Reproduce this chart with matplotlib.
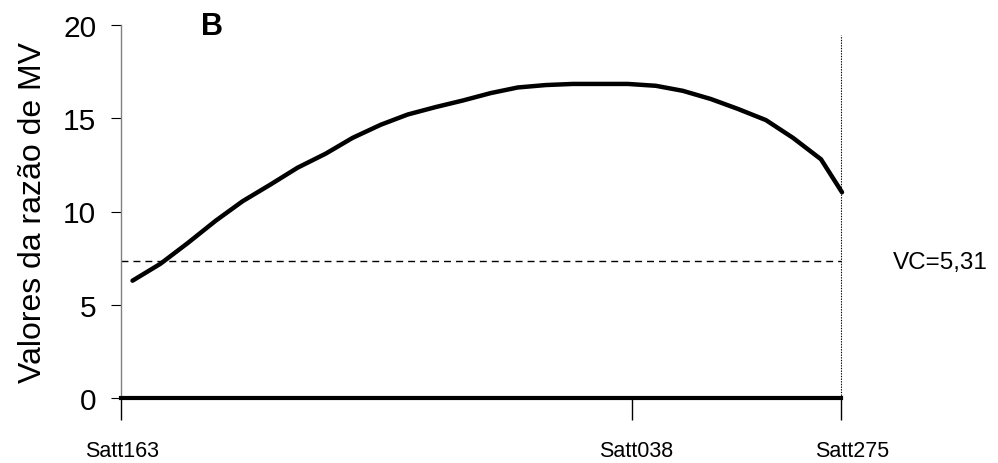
import matplotlib
matplotlib.use('Agg')
import matplotlib.pyplot as plt
import matplotlib.transforms as mtrans
import numpy as np

plt.rcParams['font.family'] = ['Liberation Sans', 'DejaVu Sans']

# marcadores (posicao em cM)
markers = ['Satt163', 'Satt038', 'Satt275']
marker_pos = [0.0, 51.1, 72.0]

# curva da razao de MV ao longo do intervalo
pos = [1.2, 4.0, 6.7, 9.5, 12.2, 15.0, 17.7, 20.5, 23.2, 26.0, 28.7, 31.5, 34.2,
       37.0, 39.7, 42.5, 45.2, 48.0, 50.7, 53.5, 56.2, 59.0, 61.7, 64.5, 67.2,
       70.0, 72.1]
mv = [6.29, 7.2, 8.3, 9.5, 10.55, 11.45, 12.35, 13.1, 13.95, 14.65, 15.2, 15.6,
      15.95, 16.35, 16.65, 16.78, 16.84, 16.84, 16.84, 16.74, 16.47, 16.03, 15.5,
      14.9, 13.95, 12.8, 11.03]

vc_level = 7.35
vc_text = 'VC=5,31'
yticks = [0, 5, 10, 15, 20]

W, H = 998, 464
fig = plt.figure(figsize=(W/100., H/100.), dpi=100)
ax = fig.add_axes([120.5/W, (H-399)/float(H), (841-120.5)/W, (399-26)/float(H)])

ax.plot(pos, mv, color='black', lw=3.2, solid_capstyle='round',
        solid_joinstyle='round', clip_on=False, zorder=3)
ax.plot([0, 72], [vc_level, vc_level], color='black', lw=1.0,
        linestyle=(0, (5, 3.6)), clip_on=False)
ax.plot([72, 72], [0, 19.45], color='black', lw=0.8,
        linestyle=(0, (1.2, 1.2)), clip_on=False)

ax.set_xlim(0, 72)
ax.set_ylim(0, 20)
ax.set_yticks(yticks)
ax.set_xticks(marker_pos)
ax.set_xticklabels(markers, fontsize=15.5)
ax.tick_params(axis='y', direction='out', length=7.5, width=0.8, labelsize=21.5, pad=10)
ax.tick_params(axis='x', direction='out', length=16, width=1.0, pad=14)

# Excel-like offsets of the marker labels (px)
shifts = [2, 4, 11]
for lab, dx in zip(ax.get_xticklabels(), shifts):
    lab.set_transform(lab.get_transform() + mtrans.ScaledTranslation(dx/100., 0, fig.dpi_scale_trans))

for s in ['top', 'right']:
    ax.spines[s].set_visible(False)
ax.spines['left'].set_color('#808080')
ax.spines['left'].set_linewidth(1.0)
ax.spines['bottom'].set_linewidth(3.0)
ax.spines['bottom'].set_color('black')

ax.set_ylabel('Valores da razão de MV', fontsize=23, labelpad=11)

ax.text(893./W, (H-263.)/H, vc_text, transform=fig.transFigure, fontsize=17.5,
        ha='left', va='center')
ax.text(212./W, (H-27.)/H, 'B', transform=fig.transFigure, fontsize=22,
        fontweight='bold', ha='center', va='center')

fig.savefig('out.png', dpi=100)
